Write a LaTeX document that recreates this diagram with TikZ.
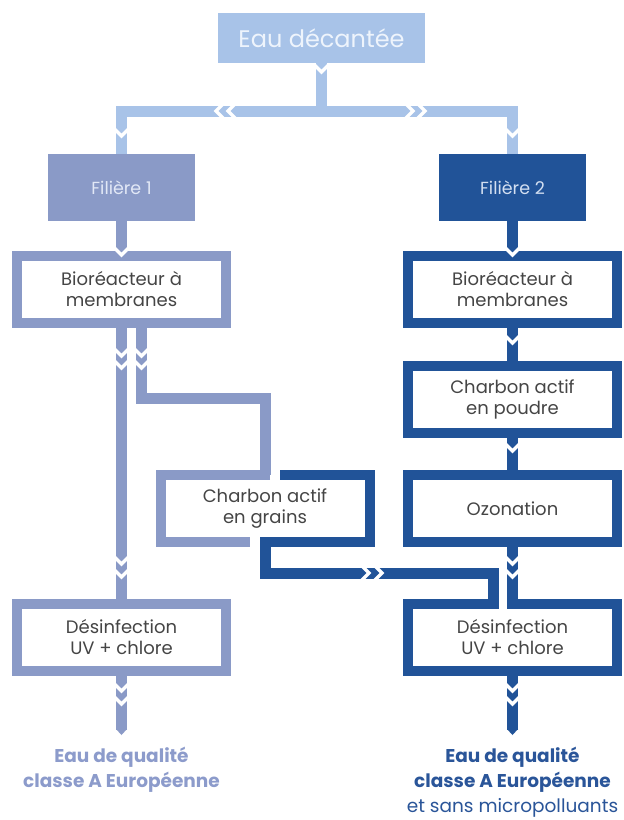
\documentclass[tikz,border=0pt]{standalone}
\usepackage{fontspec}
\setmainfont{Poppins}
\usetikzlibrary{calc}

\definecolor{skyband}{HTML}{A8C3E8}
\definecolor{lineone}{HTML}{8A9AC7}
\definecolor{linetwo}{HTML}{215398}
\definecolor{inktext}{HTML}{454545}
\definecolor{eautext}{HTML}{EEF4FC}
\definecolor{headone}{HTML}{E2E8F6}
\definecolor{headtwo}{HTML}{D3DFF1}
\definecolor{outone}{HTML}{8C9BCB}
\definecolor{outtwo}{HTML}{2A5599}

\tikzset{
  every node/.style={outer sep=0pt, inner sep=0pt},
  stagebox/.style={draw=#1, line width=10pt, fill=white, minimum width=209pt,
    minimum height=67pt, text=inktext, align=center,
    font=\fontsize{18}{21}\selectfont},
  headbox/.style={fill=#1, minimum width=147pt, minimum height=67pt,
    font=\fontsize{17.5}{20}\selectfont},
  band/.style={draw=#1, line width=11pt, line join=miter, line cap=butt},
  rim/.style={draw=#1, line width=10pt, line join=miter, line cap=butt},
  cut/.style={draw=white, line width=3.5pt, line join=miter},
}

% white chevron notches that split a band
\newcommand\cutdown[2]{\draw[cut] ({#1-8},{#2-8}) -- (#1,#2) -- ({#1+8},{#2-8});}
\newcommand\cutright[2]{\draw[cut] ({#1-8},{#2-8}) -- (#1,#2) -- ({#1-8},{#2+8});}
\newcommand\cutleft[2]{\draw[cut] ({#1+8},{#2-8}) -- (#1,#2) -- ({#1+8},{#2+8});}

\begin{document}
\begin{tikzpicture}[x=1pt,y=-1pt]
\useasboundingbox (0,0) rectangle (624,820);
\fill[white] (0,0) rectangle (624,820);

% source and the two lines
\node[fill=skyband, minimum width=207pt, minimum height=50pt, text=eautext,
  font=\fontsize{24}{28}\selectfont] (eau) at (321.5,38) {Eau décantée};
\node[headbox=lineone, text=headone] (f1) at (121.5,187.5) {Filière 1};
\node[headbox=linetwo, text=headtwo] (f2) at (512.5,187.5) {Filière 2};

% treatment stages
\node[stagebox=lineone] (bio1) at (121.5,289.5) {Bioréacteur à\\membranes};
\node[stagebox=linetwo] (bio2) at (512.5,289.5) {Bioréacteur à\\membranes};
\node[stagebox=linetwo] (poudre) at (512.5,399) {Charbon actif\\en poudre};
\node[stagebox=none] (grains) at (265,508.5) {Charbon actif\\en grains};
\node[stagebox=linetwo] (ozone) at (512.5,508.5) {Ozonation};
\node[stagebox=lineone] (des1) at (121.5,637) {Désinfection\\UV + chlore};
\node[stagebox=linetwo] (des2) at (512.5,637) {Désinfection\\UV + chlore};

% two-coloured rim of the granular carbon stage
\draw[rim=lineone] ($(grains.north)+(5,0)$) -| (grains.south west) -- ($(grains.south)+(-15,0)$);
\draw[rim=linetwo] ($(grains.north)+(15,0)$) -| (grains.south east) -- ($(grains.south)+(-5,0)$);

% outputs
\node[anchor=north, align=center, text=outone,
  font=\fontsize{18.5}{25}\selectfont\bfseries] (q1) at (121.5,747)
  {Eau de qualité\\classe A Européenne};
\node[anchor=north, align=center, text=outtwo,
  font=\fontsize{18.5}{25}\selectfont] (q2) at (512.5,747)
  {\textbf{Eau de qualité}\\\textbf{classe A Européenne}\\et sans micropolluants};

% split of the settled water
\coordinate (split) at (321.5,111);
\draw[band=skyband] (eau.south) -- (split);
\draw[band=skyband] (f1.north) -- (f1.north |- split) -- (f2.north |- split) -- (f2.north);

% line 1
\draw[band=lineone] (f1.south) -- (bio1.north);
\draw[band=lineone] (bio1.south) -- (des1.north);
\draw[band=lineone] ($(bio1.south)+(20,0)$) -- ++(0,75) -| (grains.north);
\draw[band=lineone] (des1.south) -- ++(0,59) coordinate (out1);
\fill[lineone] ($(out1)+(-5.5,-0.5)$) -- ($(out1)+(5.5,-0.5)$) -- ($(out1)+(0,5.5)$) -- cycle;

% line 2
\draw[band=linetwo] (f2.south) -- (bio2.north);
\draw[band=linetwo] (bio2.south) -- (poudre.north);
\draw[band=linetwo] (poudre.south) -- (ozone.north);
\draw[band=linetwo] (ozone.south) -- (des2.north);
\draw[band=linetwo] (grains.south) -- ++(0,31) -| ($(des2.north)+(-19.5,0)$);
\draw[band=linetwo] (des2.south) -- ++(0,59) coordinate (out2);
\fill[linetwo] ($(out2)+(-5.5,-0.5)$) -- ($(out2)+(5.5,-0.5)$) -- ($(out2)+(0,5.5)$) -- cycle;

% separation between the two inflows of the last stage
\fill[white] (498.5,590) rectangle (507,608.5);

% chevron notches
\cutdown{321.5}{72}
\cutleft{228}{111}
\cutleft{216}{111}
\cutright{413}{111}
\cutright{425}{111}
\cutdown{121.5}{136}
\cutdown{512.5}{136}
\cutdown{121.5}{255}
\cutdown{512.5}{255}
\cutdown{121.5}{356}
\cutdown{121.5}{368}
\cutdown{141.5}{356}
\cutdown{141.5}{368}
\cutdown{512.5}{343}
\cutdown{512.5}{451}
\cutright{369}{573}
\cutright{382}{573}
\cutdown{121.5}{564}
\cutdown{121.5}{577}
\cutdown{512.5}{564}
\cutdown{512.5}{577}
\cutdown{121.5}{691}
\cutdown{121.5}{704}
\cutdown{512.5}{691}
\cutdown{512.5}{704}
\end{tikzpicture}
\end{document}
